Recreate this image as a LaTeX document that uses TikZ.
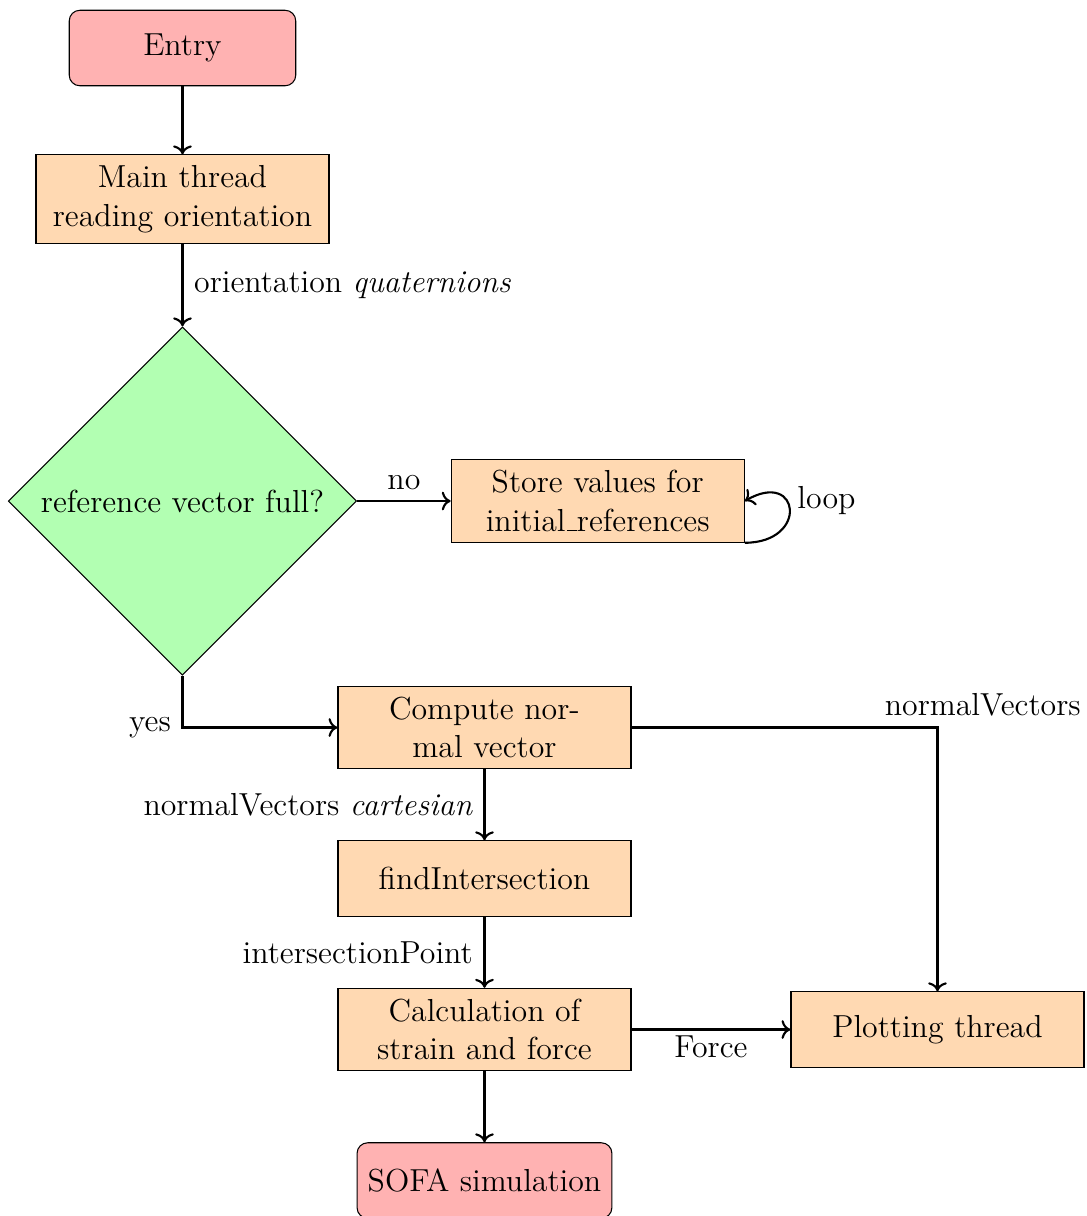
\documentclass[tikz,border=0pt,12pt]{standalone}
\usepackage{amsmath,amssymb}
\usepackage{xcolor}
\usepackage{tikz}
\usetikzlibrary{arrows.meta,shapes.geometric,positioning,calc}

% short low rule as underscore
\newcommand{\lowrule}{\leavevmode\kern.06em\vbox{\hrule width.3em}}

\tikzset{
  startstop/.style={rectangle, rounded corners, minimum width=3cm, minimum height=1cm, text centered, draw=black, fill=red!30},
  process/.style={rectangle, minimum width=3cm, minimum height=1cm, text centered, text width=3.6cm, draw=black, fill=orange!30},
  decision/.style={diamond, minimum width=3cm, minimum height=1cm, text centered, draw=black, fill=green!30},
  arrow/.style={thick,->}
}

\begin{document}
\begin{tikzpicture}
  %set diagram frame (cropped at right and bottom)
  \useasboundingbox (-2.417,0.636) rectangle (11.98,-15.47);

  % Nodes
  \node (entry) [startstop] at (0,0) {Entry};
  \node (mainthr) [process] at (0,-2) {Main thread reading orientation};
  \node (refcheck) [decision] at (0,-6) {reference vector full?};
  \node (storeval) [process] at (5.5,-6) {Store values for initial\lowrule references};
  \node (normvec) [process] at (4,-9) {Compute normal vector};
  \node (findint) [process] at (4,-11) {findIntersection};
  \node (strainforce) [process] at (4,-13) {Calculation of strain and force};
  \node (plotthr) [process] at (10,-13) {Plotting thread};
  \node (sofa) [startstop] at (4,-15) {SOFA simulation};

  % Arrows
  \draw [arrow] (entry) -- (mainthr);
  \draw [arrow] (mainthr) -- node[right] (lblquat) {orientation \textit{quaternions}} (refcheck);
  \draw [arrow] (refcheck) -- node[above] (lblno) {no} (storeval);
  \draw [arrow] (storeval.south east) to[out=0,in=30,distance=0.85cm] (storeval.east);
  \node (lblloop) [right=0.55cm of storeval.east] {loop};
  \draw [arrow] (refcheck) |- node[pos=0.5,left] (lblyes) {yes} (normvec);
  \draw [arrow] (normvec) -- node[left] (lblcart) {normalVectors \textit{cartesian}} (findint);
  \draw [arrow] (normvec) -| node[pos=0.5,above,xshift=0.6cm] (lblnormal) {normalVectors} (plotthr);
  \draw [arrow] (findint) -- node[left] (lblint) {intersectionPoint} (strainforce);
  \draw [arrow] (strainforce) -- node[below,yshift=2pt] (lblforce) {Force} (plotthr);
  \draw [arrow] (strainforce) -- (sofa);
\end{tikzpicture}
\end{document}
